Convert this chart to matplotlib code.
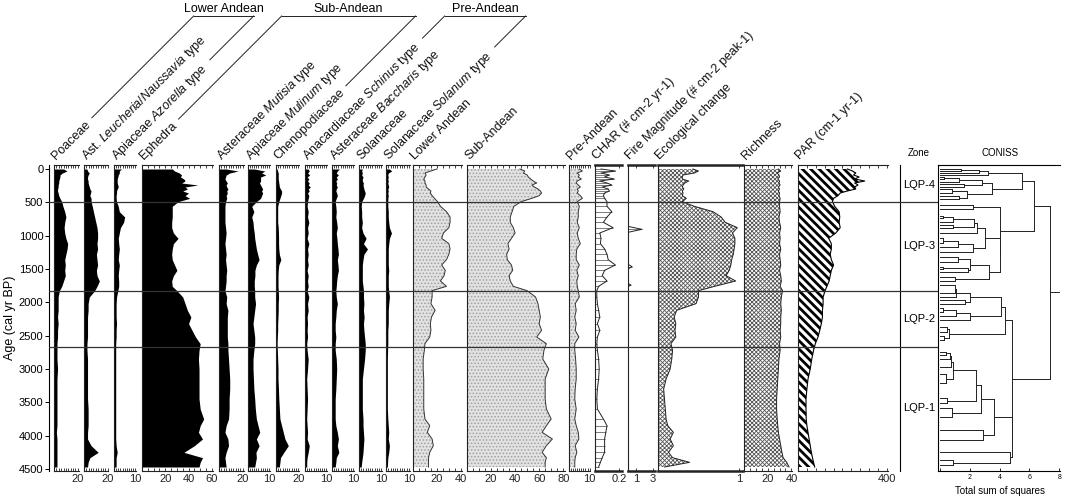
import matplotlib
matplotlib.use('Agg')
import matplotlib.pyplot as plt
from matplotlib.ticker import MultipleLocator

plt.rcParams['font.family'] = ['Liberation Sans', 'DejaVu Sans']
plt.rcParams['mathtext.fontset'] = 'custom'
plt.rcParams['mathtext.rm'] = 'Liberation Sans'
plt.rcParams['mathtext.it'] = 'Liberation Sans:italic'
plt.rcParams['hatch.linewidth'] = 0.7

# sample ages (cal yr BP)
ages = [0, 30, 60, 90, 120, 150, 180, 210, 240, 270, 300, 330, 360, 400, 440, 490,
        560, 640, 720, 800, 880, 960, 1040, 1120, 1200, 1280, 1360, 1440, 1520, 1600, 1680, 1760, 1825,
        1920, 2020, 2120, 2220, 2320, 2420, 2520, 2620, 2720,
        2850, 3000, 3150, 3300, 3450, 3600, 3750, 3850, 3950, 4050, 4150, 4250, 4330, 4400, 4470]

poaceae = [8, 11, 7, 5, 5, 4.5, 4, 4, 3.5, 3.5, 3, 3, 3.5, 4, 5, 6.5,
           7.5, 9, 10, 9, 8.5, 9, 10, 11.5, 11, 10, 9, 9.5, 9, 9.5, 8, 6.5, 4.5,
           3.5, 3.5, 3.5, 3, 3.5, 3, 3, 2.5, 2.5,
           2.5, 3, 2.5, 2.5, 2.5, 2.5, 2.5, 2.5, 2, 2.5, 2.5, 2.5, 2.5, 2.5, 2.5]
leucheria = [2.5, 3, 4.5, 3.5, 3, 3, 3.5, 3.5, 4, 4.5, 5, 6, 5.5, 5, 6, 6,
             7, 8, 9, 10, 11, 11.5, 11.5, 11, 11.5, 10.5, 11, 11.5, 10.5, 11, 13, 11, 9,
             4.5, 3.5, 3.5, 3, 3, 3, 3, 2.5, 2.5,
             3, 3, 3, 3, 3, 3.5, 3.5, 3.5, 3, 3, 6, 12, 5, 3.5, 3]
azorella = [3.5, 2.5, 2.5, 2, 1.8, 1.5, 1.5, 1.5, 1.8, 2, 1.5, 1.2, 1.2, 1, 1, 1.2,
            2, 2.5, 5, 4.5, 3, 2.5, 2, 2.2, 2.5, 2.2, 2, 2.5, 2.2, 2, 2.2, 2.2, 1.8,
            1.2, 1, 1, 1, 1.2, 1, 1, 0.8, 0.8,
            0.8, 0.8, 0.8, 0.8, 0.8, 0.8, 0.8, 0.8, 0.8, 0.8, 1, 1.5, 1, 1, 1]
ephedra = [26, 28, 32, 34, 33, 36, 37, 34, 48, 37, 39, 35, 40, 37, 41, 31,
           26, 26, 26, 25.5, 25.5, 27, 31, 27, 26, 25.5, 26, 28, 30, 27, 25.5, 26, 30,
           35, 37, 39, 42, 40, 43, 46, 50, 49,
           48.5, 49, 49, 49, 49, 50, 53, 50, 48.5, 52, 45, 36, 52, 50, 49]
mutisia = [6, 16, 9, 6, 5.5, 5, 6, 7, 6, 6.5, 7.5, 6.5, 7, 6, 6.5, 5.5,
           5, 5, 5, 5, 5.5, 6, 5.5, 5, 5.5, 6, 5.5, 6, 6.5, 6, 6, 5.5, 5,
           6.5, 6, 7.5, 7, 7, 7, 7, 7.5, 7.5,
           8, 8.5, 9, 9, 8.5, 8.5, 8, 6, 5, 7.5, 8, 6, 5, 5.5, 6]
mulinum = [3, 8, 6.5, 8.5, 6, 6, 6, 5.5, 6, 6.5, 7, 6.5, 7, 6.5, 6, 4,
           1.8, 2.8, 1.8, 2.4, 2.6, 3, 3.2, 3.6, 4, 4.6, 5.3, 4, 3.3, 3.3, 3, 3, 3.2,
           3.2, 3.6, 3.2, 2.8, 2.4, 2.8, 3.2, 3.2, 2.8,
           2.4, 2.4, 2.6, 2.8, 3.2, 3.5, 4, 4.8, 5.6, 4, 5.3, 3.8, 4, 3.6, 3.2]
chenopod = [1, 1.5, 2, 2, 2, 2, 2.3, 2.5, 2.8, 3, 4, 5, 5, 4.3, 3.5, 2.5,
            1.5, 1.5, 1.5, 1.5, 2, 2.2, 2.3, 2.3, 2.5, 3, 4.3, 2.5, 2, 1.8, 1.8, 1.8, 2,
            2.3, 2, 2, 1.8, 1.5, 1.5, 1.2, 1, 1.2,
            1.5, 1.8, 1.8, 2.2, 2.5, 3, 3.5, 5, 6.5, 8, 11, 7, 4, 3.5, 3]
schinus = [1.5, 2, 1.2, 2.2, 1, 1.8, 1.2, 2, 1.5, 2.5, 1.5, 2, 1.2, 1.8, 1.5, 1.2,
           1, 1.5, 1.2, 1.8, 1.2, 1.5, 1, 1.8, 1.2, 1.5, 1.2, 1.5, 1, 1.5, 1.2, 1.5, 1,
           1.8, 1.2, 1.5, 1, 1.2, 1, 1.2, 0.8, 1,
           1.5, 1.2, 0.8, 1, 1.2, 1, 0.8, 1, 1.2, 1, 2, 1.5, 1, 0.8, 0.8]
baccharis = [3.5, 2.5, 2, 3, 2, 2.5, 1.8, 2.2, 2, 2.5, 2, 1.8, 2.2, 2.5, 2, 1.5,
             1.8, 2, 1.8, 2.2, 2.5, 2, 2.3, 2.5, 2.8, 3, 2.5, 2.8, 3, 2.5, 2.2, 2, 1.8,
             2, 2.5, 2, 1.8, 1.5, 1.5, 1.8, 1.5, 1.5,
             2, 2.2, 2, 1.8, 1.5, 1.5, 1.5, 1.8, 2.5, 3, 2.5, 3.2, 2, 1.8, 1.5]
solanaceae = [1.5, 1.2, 1.5, 1.2, 1.8, 1.5, 1.5, 2, 1.8, 2, 2.2, 2.5, 2.8, 2.5, 2, 1.2,
              1, 1.2, 1.2, 1.5, 1.2, 1.8, 3.2, 2, 3.8, 2.2, 1.8, 1.5, 1.5, 1.5, 1.5, 1.8, 2,
              2, 2.2, 2, 2.3, 2, 2.2, 2.5, 2.8, 2.8,
              2.5, 2, 1.5, 1.5, 1.5, 1.5, 1.8, 1.8, 2, 2.2, 2, 1.8, 1.5, 1.2, 1]
solanum = [1.5, 2.5, 1, 0.8, 1, 0.8, 1, 0.8, 1, 1.2, 0.8, 1, 0.8, 1, 0.8, 0.8,
           0.8, 1, 1, 1.2, 1.5, 2.4, 1.5, 1.2, 1, 1, 1, 1, 1.2, 1, 1, 1, 1.2,
           1.5, 1.2, 1, 1, 1, 0.8, 0.8, 0.8, 0.7,
           0.6, 0.6, 0.6, 0.6, 0.6, 0.6, 0.8, 1, 1.2, 1, 1.5, 1.2, 0.8, 0.7, 0.6]
lower_andean = [20, 15, 10, 11, 10, 9, 10, 10, 11, 11, 13, 15, 14.5, 16, 18, 20.5,
                23, 28, 31, 31, 30, 25.5, 24, 30, 31, 30, 28, 24, 27, 26, 23, 28, 16,
                16, 15, 18.5, 15.5, 14.5, 15, 14, 10, 9.5,
                8.5, 8.5, 9, 9, 9, 9, 10, 14, 12, 16, 17, 14, 13, 13, 13]
sub_andean = [44, 48, 47, 50, 51, 53, 55, 58, 54, 56, 59, 61, 62, 60, 54, 45,
              39, 37.5, 36, 36, 38.5, 40, 37, 34, 35, 33, 33.5, 37, 38, 35, 36, 38.5, 50,
              57, 59, 60, 61, 60, 62, 58, 66, 64,
              63, 68, 65, 65, 65, 66, 70, 66, 62.5, 71, 66, 62.5, 66, 65, 65]
pre_andean = [5, 6.5, 4, 5, 4.5, 6, 4, 3.5, 4.5, 5.5, 4, 4.5, 4, 5.5, 6.5, 4,
              5, 4.5, 4.5, 4, 5, 4, 4.5, 5.5, 3.8, 3.5, 3.5, 5, 3.8, 4.5, 3.8, 4, 4.5,
              5, 3, 3.5, 2.8, 3.5, 3, 4.8, 2.8, 2.8,
              3.2, 3.5, 3.5, 3, 2.8, 3.5, 2.8, 3.5, 4.5, 4.8, 3, 3.8, 3, 2.8, 2.8]
char = [0.05, 0.17, 0.05, 0.12, 0.08, 0.16, 0.04, 0.1, 0.14, 0.06, 0.11, 0.12, 0.08, 0.07, 0.08, 0.1,
        0.1, 0.14, 0.1, 0.07, 0.15, 0.04, 0.05, 0.045, 0.08, 0.1, 0.11, 0.17, 0.08, 0.06, 0.1, 0.03, 0.015,
        0.015, 0.02, 0.03, 0.04, 0.02, 0.04, 0.02, 0.015, 0.02,
        0.03, 0.035, 0.03, 0.02, 0.015, 0.02, 0.07, 0.1, 0.09, 0.08, 0.08, 0.08, 0.06, 0.045, 0.03]
eco_change = [0.43, 0.5, 0.45, 0.31, 0.3, 0.3, 0.38, 0.33, 0.31, 0.3, 0.32, 0.3, 0.31, 0.3, 0.35, 0.3,
              0.45, 0.68, 0.78, 0.83, 0.98, 0.92, 0.95, 0.95, 0.94, 0.93, 0.91, 0.9, 0.88, 0.84, 0.96, 0.7, 0.5,
              0.5, 0.47, 0.23, 0.2, 0.22, 0.21, 0.22, 0.16, 0.18,
              0.17, 0.15, 0.1, 0.07, 0.08, 0.09, 0.1, 0.12, 0.19, 0.15, 0.19, 0.13, 0.18, 0.39, 0.08]
richness = [29, 31, 28, 29.5, 30, 28.5, 30, 29.5, 30.5, 29, 30, 29, 30, 29.5, 30.5, 30,
            30, 30.5, 29.5, 30, 31, 30, 30.5, 30, 31, 30, 30.5, 31, 30, 31, 31.5, 30.5, 32.5,
            31.5, 31, 31.5, 31, 31, 30.5, 31, 30, 30.5,
            29.5, 29, 28.5, 28, 27.5, 27.5, 28, 28.5, 29, 30, 31, 32, 33, 36, 38]
par = [222, 245, 260, 250, 275, 255, 300, 255, 270, 255, 260, 222, 190, 180, 160, 155,
       165, 185, 188, 185, 190, 170, 138, 150, 150, 145, 150, 160, 150, 145, 140, 130, 122,
       113, 113, 110, 110, 105, 98, 90, 78, 70,
       62, 55, 45, 40, 36, 36, 37, 40, 45, 50, 55, 60, 65, 70, 75]

fire_ages = [0, 860, 905, 950, 1430, 1465, 1500, 1715, 1740, 1765, 4470]
fire_mag = [0, 0, 1.7, 0, 0, 0.5, 0, 0, 0.35, 0, 0]

zone_bounds = [490, 1825, 2665]
zone_names = ['LQP-4', 'LQP-3', 'LQP-2', 'LQP-1']

# CONISS clusters: [height, child, child], leaves are sample ages
a3 = [3.2, [2.6, [1.4, 0, 25], 55], 90]
a7 = [2.8, [1.3, [0.3, 125, 155], 190], [1.6, 225, 265]]
a9 = [1.8, [0.8, 305, 355], [1.3, 405, 455]]
top4 = [5.5, a3, [3.5, a7, a9]]
b5 = [2.5, [2.3, [0.9, [0.2, 705, 740], 790], [0.9, 840, 890]], 965]
b8 = [2.2, [1.2, [0.2, 1040, 1115], 1175], 1240]
b14 = [3.3, [2.0, [1.2, 1315, 1390], [1.9, [0.2, 1465, 1495], 1545]], [1.0, 1615, 1675]]
b17 = [4.05, [2.2, 540, 605], [4.0, [3.0, b5, b8], b14]]
top34 = [6.3, top4, b17]
c4 = [2.0, [1.1, [1.0, 1740, 1865], 1915], [1.7, 1965, 2025]]
c7 = [2.0, [1.1, [0.2, 2090, 2140], 2200], 2265]
c11 = [4.35, [4.1, c4, c7], [0.6, [0.5, 2365, 2440], [0.3, 2505, 2565]]]
d3 = [0.75, [0.7, [0.4, 2740, 2790], 2855], 2965]
d7 = [2.75, [2.4, [0.85, d3, [0.4, 3075, 3215]], [0.5, 3440, 3515]], [0.8, 3590, 3715]]
d12 = [4.8, [3.6, d7, [2.9, 3915, 4065]], [4.7, 4240, [0.9, 4365, 4440]]]
coniss = [7.4, top34, [4.85, c11, d12]]

W, H = 1065, 499
TOP, BOT = 165, 471
YLIM = (4530, -60)
FS = 9

fig = plt.figure(figsize=(W / 100, H / 100), dpi=100)
fig.patch.set_facecolor('white')


def px_axes(x0, x1, y0=TOP, y1=BOT, **kw):
    return fig.add_axes([x0 / W, 1 - y1 / H, (x1 - x0) / W, (y1 - y0) / H], **kw)


def hatched(ax, yv, xv, hatch, color, lw):
    with plt.rc_context({'hatch.linewidth': lw}):
        coll = ax.fill_betweenx(yv, 0, xv, facecolor='white', edgecolor=color, hatch=hatch, lw=0)
    if hasattr(coll, 'set_hatch_linewidth'):
        coll.set_hatch_linewidth(lw)
    return coll


ov = fig.add_axes([0, 0, 1, 1], zorder=20)
ov.set_xlim(0, W)
ov.set_ylim(H, 0)
ov.axis('off')

panels = [
    ('Poaceae', ages, poaceae, 54, 79, 21, [20], 2, 'black'),
    ('Ast. $\\mathit{Leucheria/Naussavia}$ type', ages, leucheria, 84, 108, 20.3, [20], 2, 'black'),
    ('Apiaceae $\\mathit{Azorella}$ type', ages, azorella, 114, 136, 10.3, [10], 1, 'black'),
    ('Ephedra', ages, ephedra, 142, 213, 61, [20, 40, 60], 5, 'black'),
    ('Asteraceae $\\mathit{Mutisia}$ type', ages, mutisia, 219, 244, 21, [20], 2, 'black'),
    ('Apiaceae $\\mathit{Mulinum}$ type', ages, mulinum, 248, 270, 10.5, [10], 1, 'black'),
    ('Chenopodiaceae', ages, chenopod, 276, 299, 20.5, [20], 2, 'black'),
    ('Anacardiaceae $\\mathit{Schinus}$ type', ages, schinus, 305, 327, 10.3, [10], 1, 'black'),
    ('Asteraceae $\\mathit{Baccharis}$ type', ages, baccharis, 332, 354, 10.3, [10], 1, 'black'),
    ('Solanaceae', ages, solanaceae, 359, 382, 10.3, [10], 1, 'black'),
    ('Solanaceae $\\mathit{Solanum}$ type', ages, solanum, 386, 410, 10.5, [10], 1, 'black'),
    ('Lower Andean', ages, lower_andean, 413, 462, 41, [20, 40], 5, 'dots'),
    ('Sub-Andean', ages, sub_andean, 467, 565, 81.5, [20, 40, 60, 80], 5, 'dots'),
    ('Pre-Andean', ages, pre_andean, 569, 590, 10.2, [10], 1, 'dots'),
    ('CHAR (# cm-2 yr-1)', ages, char, 595, 622, 0.225, [0.2], None, 'char'),
    ('Fire Magnitude (# cm-2 peak-1)', fire_ages, fire_mag, 628, 655, 3.3, [1, 3], None, 'char'),
    ('Ecological change', ages, eco_change, 658, 743, 1.05, [1], None, 'cross'),
    ('Richness', ages, richness, 744, 792, 40.5, [20, 40], 5, 'cross'),
    ('PAR (cm-1 yr-1)', ages, par, 798, 888, 405, [400], 40, 'par'),
]

header_texts = []
for label, yv, xv, left, right, xmax, ticks, minor, style in panels:
    ax = px_axes(left, right)
    ax.set_xlim(0, xmax)
    ax.set_ylim(*YLIM)
    ax.set_yticks([])
    ax.patch.set_alpha(0)
    ax.spines['right'].set_visible(False)
    for s in ax.spines.values():
        s.set_linewidth(0.8)
        s.set_color('#222222')
    ax.set_xticks(ticks)
    ax.set_xticklabels(['{:g}'.format(t) for t in ticks])
    if minor:
        ax.xaxis.set_minor_locator(MultipleLocator(minor))
    else:
        ax.spines['top'].set_linewidth(1.8)
        ax.spines['bottom'].set_linewidth(1.8)
    ax.tick_params(axis='x', which='both', direction='in', top=True, bottom=True,
                   labelsize=8, pad=2, length=2.5, width=0.6, colors='#222222')

    if style == 'black':
        ax.fill_betweenx(yv, 0, xv, color='black', lw=0)
    elif style == 'dots':
        ax.fill_betweenx(yv, 0, xv, facecolor='#e2e2e2', edgecolor='#a0a0a0', hatch='.....', lw=0)
        ax.plot(xv, yv, color='#333333', lw=0.7)
    elif style == 'char':
        ax.hlines(yv, 0, xv, colors='#666666', lw=0.6)
        ax.plot(xv, yv, color='#222222', lw=0.7)
    elif style == 'cross':
        hatched(ax, yv, xv, 'x' * 8, '#555555', 0.6)
        ax.plot(xv, yv, color='#222222', lw=0.7)
    elif style == 'par':
        hatched(ax, yv, xv, '\\' * 4, 'black', 2.0)
        ax.plot(xv, yv, color='black', lw=0.8)

    t = ov.text(left + 2, 160, label, rotation=45, rotation_mode='anchor',
                ha='left', va='baseline', fontsize=FS, color='#111111')
    header_texts.append((t, left + 2, 160))

# age axis
aax = px_axes(49, 50)
aax.set_ylim(*YLIM)
aax.set_xticks([])
for k in ['top', 'right', 'bottom']:
    aax.spines[k].set_visible(False)
aax.spines['left'].set_linewidth(0.8)
aax.set_yticks(range(0, 4501, 500))
aax.tick_params(axis='y', direction='out', length=3, width=0.7, labelsize=8, pad=1)
aax.patch.set_alpha(0)
ov.text(10, 318, 'Age (cal yr BP)', rotation=90, ha='center', va='center', fontsize=FS)

# zone column
zax = px_axes(900, 938)
zax.set_ylim(*YLIM)
zax.set_xlim(0, 1)
zax.set_xticks([])
zax.set_yticks([])
for k in ['top', 'right', 'bottom']:
    zax.spines[k].set_visible(False)
zax.spines['left'].set_linewidth(0.8)
zax.patch.set_alpha(0)
edges = [0] + zone_bounds + [4500]
for i, name in enumerate(zone_names):
    zax.text(0.5, (edges[i] + edges[i + 1]) / 2, name, ha='center', va='center', fontsize=8)
ov.text(919, 158, 'Zone', ha='center', va='bottom', fontsize=7)

# CONISS
cax = px_axes(938, 1060)
cax.set_ylim(*YLIM)
cax.set_xlim(-0.13, 8.05)
cax.set_yticks([])
cax.spines['right'].set_visible(False)
for s in cax.spines.values():
    s.set_linewidth(0.8)
cax.set_xticks([0, 2, 4, 6, 8])
cax.set_xticklabels(['', '2', '4', '6', '8'])
cax.tick_params(axis='x', direction='in', length=2, width=0.6, labelsize=5, pad=2)
cax.patch.set_alpha(0)


def draw_tree(node):
    if not isinstance(node, list):
        return node, 0.0
    h, a, b = node
    ya, ha = draw_tree(a)
    yb, hb = draw_tree(b)
    kw = dict(color='#222222', lw=0.7)
    cax.plot([ha, h], [ya, ya], **kw)
    cax.plot([hb, h], [yb, yb], **kw)
    cax.plot([h, h], [ya, yb], **kw)
    return (ya + yb) / 2, h


ry, rh = draw_tree(coniss)
cax.plot([rh, 8], [ry, ry], color='#222222', lw=0.7)
ov.text(1000, 158, 'CONISS', ha='center', va='bottom', fontsize=7)
ov.text(1000, 491, 'Total sum of squares', ha='center', va='center', fontsize=7)

# zone boundary lines across the diagram
lax = px_axes(49, 938, zorder=15)
lax.set_ylim(*YLIM)
lax.set_xlim(0, 1)
lax.axis('off')
for b in zone_bounds:
    lax.axhline(b, color='#333333', lw=0.9)

# group brackets above the rotated headers
groups = [('Lower Andean', 0, 2), ('Sub-Andean', 3, 6), ('Pre-Andean', 7, 10)]
fig.canvas.draw()
renderer = fig.canvas.get_renderer()
inv = ov.transData.inverted()
c = s = 2 ** -0.5
half_h = 0.36 * FS * 100 / 72


def label_end(idx):
    t, axp, ayp = header_texts[idx]
    bb = t.get_window_extent(renderer)
    xmax = inv.transform((bb.x1, bb.y1))[0]
    L = (xmax - axp) / c
    ex = axp + L * c - half_h * s + 3 * c
    ey = ayp - L * s - half_h * c - 3 * s
    return ex, ey


for name, i0, i1 in groups:
    tops = []
    for idx in (i0, i1):
        ex, ey = label_end(idx)
        tx = ex + (ey - 16) / s * c
        ov.plot([ex, tx], [ey, 16], color='#222222', lw=0.7)
        tops.append(tx)
    ov.plot(tops, [16, 16], color='#222222', lw=0.7)
    ov.text(sum(tops) / 2, 9, name, ha='center', va='center', fontsize=FS)

fig.savefig('out.png', dpi=100)
